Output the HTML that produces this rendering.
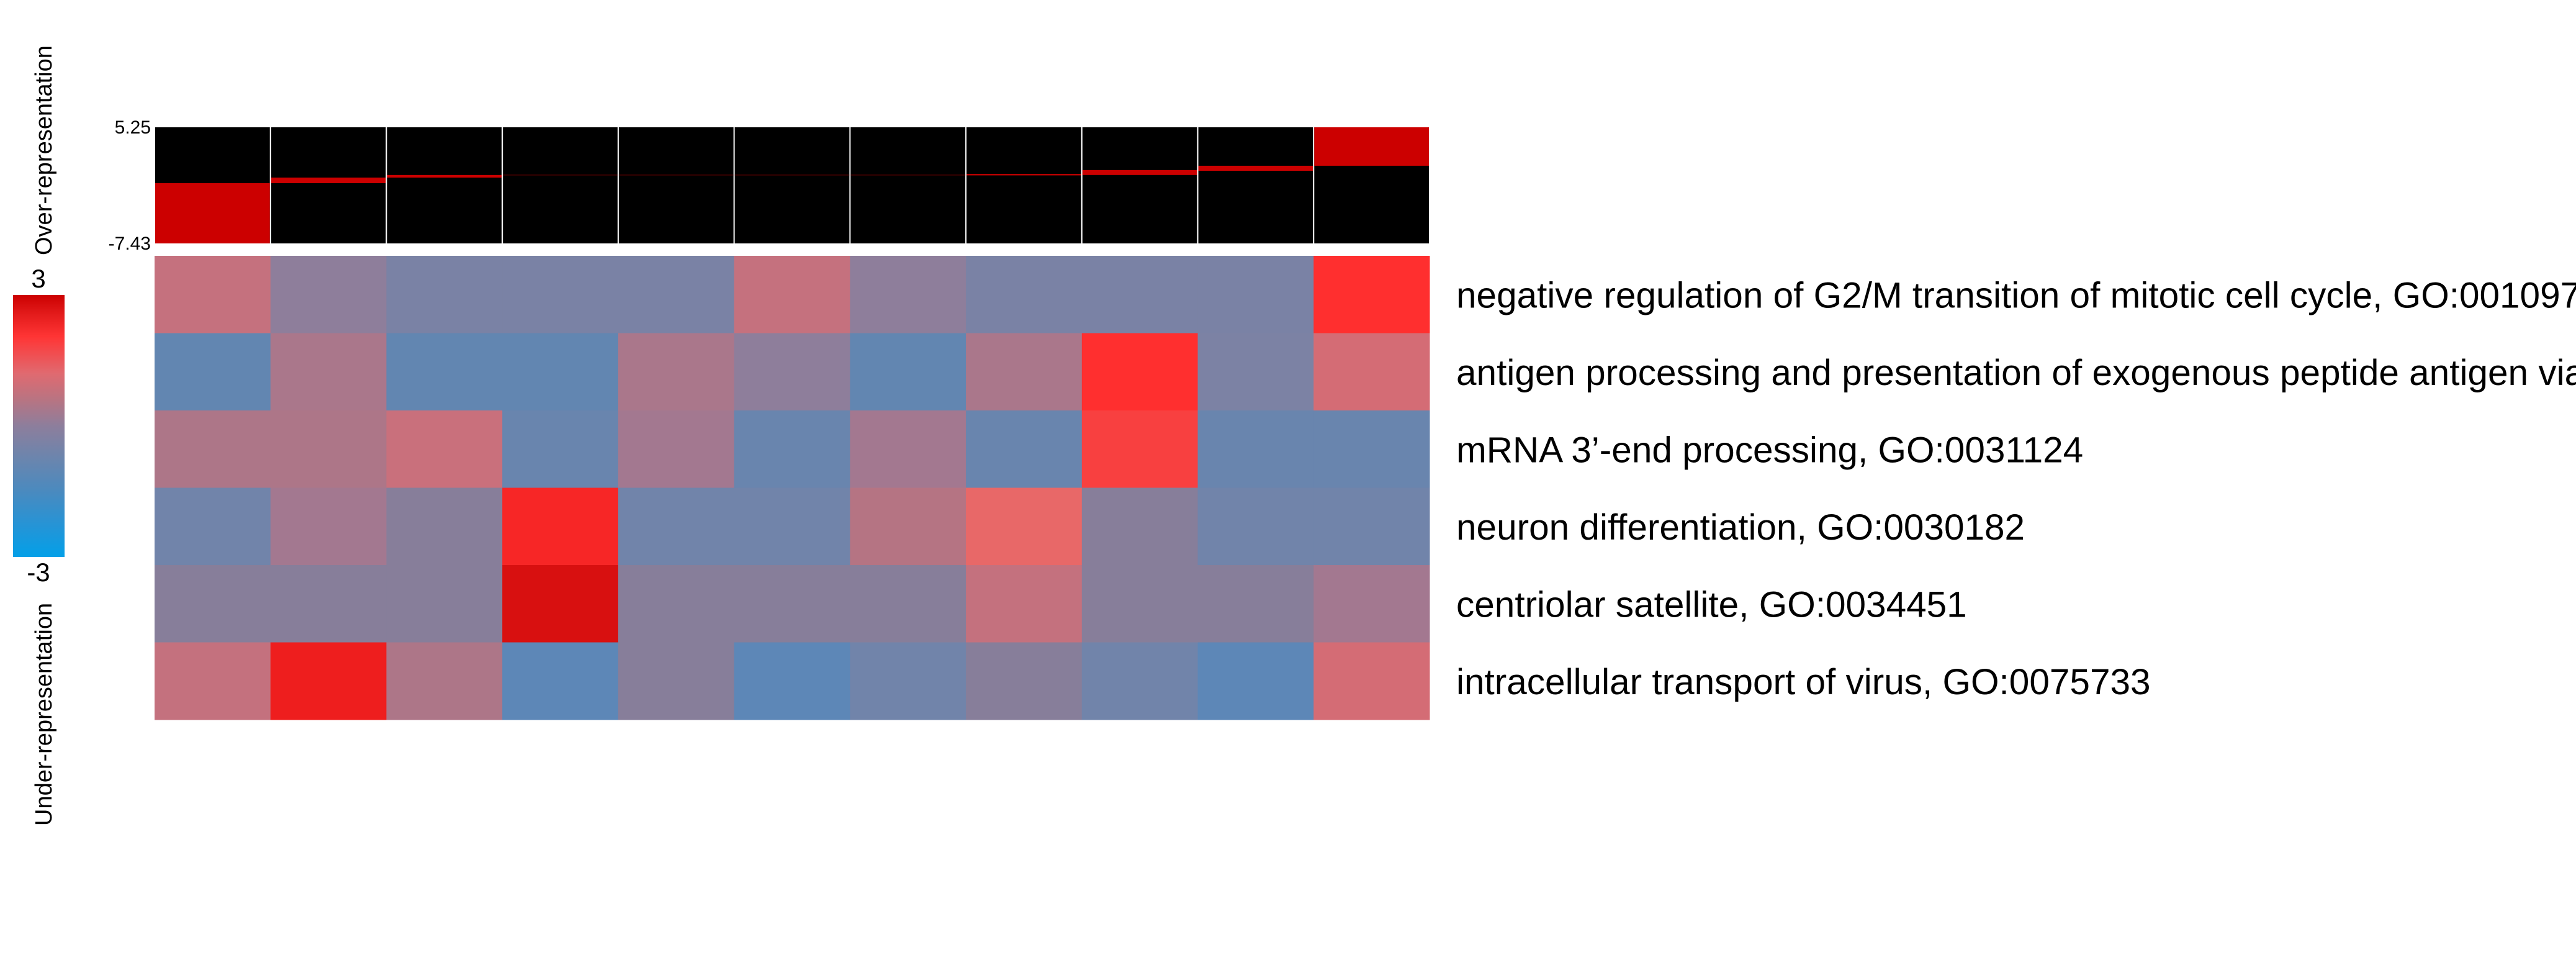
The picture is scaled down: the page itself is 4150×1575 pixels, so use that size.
<!DOCTYPE html>
<html><head><meta charset="utf-8"><style>
html,body{margin:0;padding:0;background:#fff;}
svg{display:block;font-family:"Liberation Sans",Arial,sans-serif;}
</style></head><body>
<svg id="chart" width="4150" height="1575" viewBox="0 0 4150 1575" xmlns="http://www.w3.org/2000/svg">
<rect width="4150" height="1575" fill="#fff"/>
<defs>
<linearGradient id="lg" x1="0" y1="0" x2="0" y2="1">
<stop offset="0" stop-color="#CC0000"/><stop offset="0.07" stop-color="#E21A1A"/><stop offset="0.16" stop-color="#FF3535"/>
<stop offset="0.3" stop-color="#E06A70"/><stop offset="0.4" stop-color="#B87482"/><stop offset="0.5" stop-color="#8D7E9C"/>
<stop offset="0.62" stop-color="#6C85AD"/><stop offset="0.75" stop-color="#4A8ABF"/><stop offset="0.88" stop-color="#2594D6"/><stop offset="1" stop-color="#03A0E8"/>
</linearGradient>
</defs>
<g id="legend">
<text transform="translate(83,411) rotate(-90)" font-size="38" fill="#000">Over-representation</text>
<text x="62" y="463" text-anchor="middle" font-size="42" fill="#000">3</text>
<rect x="21" y="475" width="83" height="422" fill="url(#lg)"/>
<text x="62" y="936" text-anchor="middle" font-size="42" fill="#000">-3</text>
<text transform="translate(83,1330) rotate(-90)" font-size="38" fill="#000">Under-representation</text>
</g>
<g id="top"></g>
<g id="heat"></g>
<g id="labels"></g>
</svg>
<script>
const topMax = 5.25;
const topMin = -7.43;
const topTickLabels = ["5.25", "-7.43"];
const bandHigh = [-0.85, -0.24, 0.04, 0.07, 0.07, 0.07, 0.07, 0.15, 0.58, 1.05, 5.25];
const bandLow = [-7.43, -0.85, -0.24, 0.0, 0.0, 0.0, 0.0, 0.0, 0.04, 0.5, 1.05];
const rowLabels = [
 "negative regulation of G2/M transition of mitotic cell cycle, GO:0010972",
 "antigen processing and presentation of exogenous peptide antigen via MHC class I, GO:0042590",
 "mRNA 3\u2019-end processing, GO:0031124",
 "neuron differentiation, GO:0030182",
 "centriolar satellite, GO:0034451",
 "intracellular transport of virus, GO:0075733"
];
const row1 = [0.72, 0.02, -0.5, -0.5, -0.5, 0.72, 0.02, -0.5, -0.5, -0.5, 2.0];
const row2 = [-1.1, 0.4, -1.1, -1.1, 0.4, 0.02, -1.1, 0.4, 2.0, -0.45, 1.05];
const row3 = [0.45, 0.45, 0.8, -0.9, 0.3, -0.9, 0.3, -0.9, 1.8, -0.9, -0.9];
const row4 = [-0.7, 0.3, -0.1, 2.2, -0.7, -0.7, 0.55, 1.4, -0.1, -0.7, -0.7];
const row5 = [-0.1, -0.1, -0.1, 2.6, -0.1, -0.1, -0.1, 0.7, -0.1, -0.1, 0.3];
const row6 = [0.7, 2.4, 0.45, -1.3, -0.1, -1.3, -0.7, -0.1, -0.7, -1.3, 1.05];
const matrix = [row1, row2, row3, row4, row5, row6];
const stopVals = [-3, -2, -1.4, -1.1, -0.8, -0.5, -0.1, 0, 0.3, 0.5, 0.7, 1.1, 1.4, 1.8, 2.0, 2.4, 2.6, 3];
const stopCols = ["#03A0E8","#3590CC","#5A88BA","#6286B1","#6C85AD","#7A82A5","#877E9A","#8D7E9C","#A37890","#B07585","#C4717E","#D66B74","#E86868","#F84040","#FF2F2F","#EE1E1E","#D81010","#CC0000"];

const NS = "http://www.w3.org/2000/svg";
const X0 = 249, X1 = 2303, TY0 = 205, TY1 = 392, HY0 = 412, HY1 = 1159;
const nCol = bandHigh.length;
const colW = (X1 - X0) / nCol;
function xCol(i){ return X0 + i * colW; }
function yTop(v){ return TY0 + (topMax - v) / (topMax - topMin) * (TY1 - TY0); }
const rowH = (HY1 - HY0) / matrix.length;
function yRow(r){ return HY0 + r * rowH; }
function hex(c){ return [1,3,5].map(k => parseInt(c.substr(k,2),16)); }
function color(v){
  v = Math.max(-3, Math.min(3, v));
  for (let k = 0; k < stopVals.length - 1; k++) {
    if (v <= stopVals[k+1]) {
      const t = (v - stopVals[k]) / (stopVals[k+1] - stopVals[k]);
      const a = hex(stopCols[k]), b = hex(stopCols[k+1]);
      return "rgb(" + a.map((x,j) => Math.round(x + (b[j]-x)*t)).join(",") + ")";
    }
  }
  return stopCols[stopCols.length-1];
}
function mk(tag, attrs, parent){
  const e = document.createElementNS(NS, tag);
  for (const k in attrs) e.setAttribute(k, attrs[k]);
  parent.appendChild(e);
  return e;
}
const topG = document.getElementById("top");
for (let i = 0; i < nCol; i++) {
  const bg = mk("rect", {x: xCol(i)+1, y: TY0, width: colW-2, height: TY1-TY0, fill: "#000"}, topG);
  
  
  const yh = yTop(bandHigh[i]), yl = yTop(bandLow[i]);
  const b = mk("rect", {x: xCol(i)+1, y: yh, width: colW-2, height: Math.max(1, yl-yh), fill: (yl-yh) < 1.5 ? "#6a0000" : "#CC0000"}, topG);
  
  
}
const tickVals = [topMax, topMin];
for (let t = 0; t < tickVals.length; t++) {
  const tx = mk("text", {x: 243, y: yTop(tickVals[t]) + 10, "font-size": 30, "text-anchor": "end", fill: "#000"}, topG);
  tx.textContent = topTickLabels[t];
  
  
}
const heatG = document.getElementById("heat");
for (let r = 0; r < matrix.length; r++) {
  for (let c = 0; c < nCol; c++) {
    const cell = mk("rect", {x: xCol(c), y: yRow(r), width: colW+0.5, height: rowH+0.5, fill: color(matrix[r][c])}, heatG);
    
    
  }
}
const labG = document.getElementById("labels");
for (let r = 0; r < rowLabels.length; r++) {
  const t = mk("text", {x: 2346, y: yRow(r) + rowH/2 + 21, "font-size": 58.5, fill: "#000"}, labG);
  t.textContent = rowLabels[r];
  
  
}
</script>
</body></html>
